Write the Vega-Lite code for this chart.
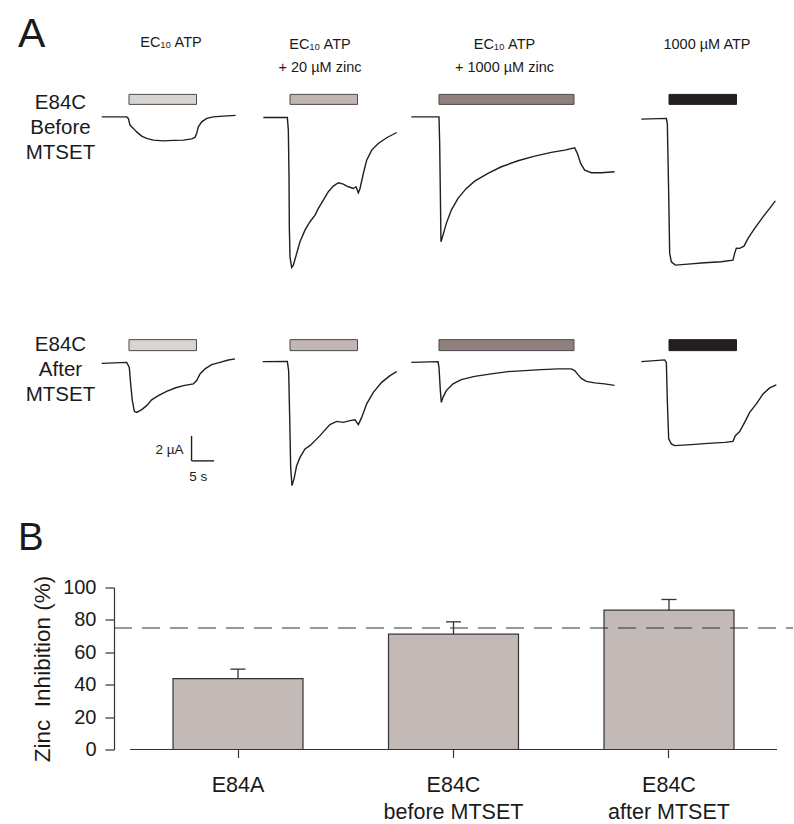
{
  "$schema": "https://vega.github.io/schema/vega-lite/v6.json",
  "padding": {"left": 18, "top": 14, "right": 0, "bottom": 0},
  "title": {"text": "A", "anchor": "start", "frame": "group", "fontSize": 41, "fontWeight": "normal", "color": "#1a1a1a", "dx": -83, "offset": -21},
  "config": {
    "font": "Liberation Sans",
    "view": {"stroke": null},
    "concat": {"spacing": 0},
    "title": {"fontWeight": "normal", "color": "#1a1a1a", "font": "Liberation Sans"},
    "axis": {"grid": false, "labelFont": "Liberation Sans", "titleFont": "Liberation Sans"}
  },
  "datasets": {
    "stim15": [{"start": 0, "end": 15}],
    "stim30": [{"start": 0, "end": 30}],
    "r1c1": [{"t":-6.07,"i":0.02},{"t":-0.51,"i":0.02},{"t":-0.15,"i":-0.1},{"t":0.22,"i":-0.64},{"t":0.96,"i":-0.9},{"t":1.71,"i":-1.18},{"t":2.82,"i":-1.52},{"t":3.93,"i":-1.7},{"t":5.4,"i":-1.84},{"t":7.62,"i":-1.9},{"t":9.84,"i":-1.86},{"t":12.07,"i":-1.84},{"t":13.93,"i":-1.74},{"t":14.67,"i":-1.62},{"t":15.04,"i":-1.3},{"t":15.4,"i":-0.78},{"t":16.16,"i":-0.38},{"t":17.27,"i":-0.1},{"t":18.73,"i":0.02},{"t":20.96,"i":0.08},{"t":23.7,"i":0.14}],
    "r1c2": [{"t":-5.93,"i":-0.03},{"t":-0.59,"i":-0.03},{"t":-0.37,"i":-1.04},{"t":-0.22,"i":-4.77},{"t":-0.15,"i":-8.77},{"t":0,"i":-11.18},{"t":0.37,"i":-12.03},{"t":0.74,"i":-11.84},{"t":1.48,"i":-10.91},{"t":2.22,"i":-9.97},{"t":3.33,"i":-9.04},{"t":4.44,"i":-8.37},{"t":5.56,"i":-7.84},{"t":6.3,"i":-7.3},{"t":7.41,"i":-6.64},{"t":8.52,"i":-5.97},{"t":9.63,"i":-5.52},{"t":10.74,"i":-5.25},{"t":11.85,"i":-5.36},{"t":12.96,"i":-5.57},{"t":14.07,"i":-5.71},{"t":14.67,"i":-5.57},{"t":15.19,"i":-6.05},{"t":15.56,"i":-5.71},{"t":16.3,"i":-4.51},{"t":17.04,"i":-3.44},{"t":18.15,"i":-2.64},{"t":19.63,"i":-2.11},{"t":21.48,"i":-1.65},{"t":23.7,"i":-1.23}],
    "r1c3": [{"t":-6.15,"i":0.02},{"t":0,"i":0.02},{"t":0.15,"i":-2.1},{"t":0.3,"i":-6.1},{"t":0.44,"i":-9.97},{"t":0.89,"i":-9.44},{"t":1.63,"i":-8.5},{"t":2.74,"i":-7.44},{"t":4.22,"i":-6.5},{"t":6.07,"i":-5.7},{"t":7.93,"i":-5.12},{"t":10.89,"i":-4.5},{"t":13.85,"i":-3.97},{"t":17.56,"i":-3.49},{"t":21.26,"i":-3.12},{"t":24.96,"i":-2.82},{"t":27.93,"i":-2.64},{"t":30.15,"i":-2.45},{"t":30.74,"i":-2.9},{"t":31.48,"i":-3.7},{"t":32.37,"i":-4.24},{"t":33.85,"i":-4.45},{"t":36.07,"i":-4.45},{"t":39.0,"i":-4.37}],
    "r1c4": [{"t":-6.15,"i":-0.16},{"t":-0.59,"i":-0.1},{"t":-0.37,"i":-0.5},{"t":-0.07,"i":-6.1},{"t":0.15,"i":-10.9},{"t":0.52,"i":-11.57},{"t":1.41,"i":-11.84},{"t":4.22,"i":-11.76},{"t":7.93,"i":-11.65},{"t":11.63,"i":-11.57},{"t":14.22,"i":-11.44},{"t":14.59,"i":-10.9},{"t":14.96,"i":-10.48},{"t":15.7,"i":-10.5},{"t":16.67,"i":-10.32},{"t":17.56,"i":-9.7},{"t":19.04,"i":-8.9},{"t":20.89,"i":-7.98},{"t":22.37,"i":-7.3},{"t":23.63,"i":-6.7}],
    "r2c1": [{"t":-6.07,"i":-0.1},{"t":-0.51,"i":-0.02},{"t":0.07,"i":-0.42},{"t":0.37,"i":-1.74},{"t":0.74,"i":-3.08},{"t":1.19,"i":-3.94},{"t":1.7,"i":-4.02},{"t":2.82,"i":-3.8},{"t":3.93,"i":-3.48},{"t":5.04,"i":-3.02},{"t":6.52,"i":-2.68},{"t":8.37,"i":-2.34},{"t":10.22,"i":-2.07},{"t":12.07,"i":-1.88},{"t":14.3,"i":-1.74},{"t":15.04,"i":-1.48},{"t":15.78,"i":-0.95},{"t":16.89,"i":-0.54},{"t":18.37,"i":-0.2},{"t":20.22,"i":-0.02},{"t":22.07,"i":0.17},{"t":23.56,"i":0.26}],
    "r2c2": [{"t":-6.07,"i":0.04},{"t":-0.59,"i":0.06},{"t":-0.3,"i":-0.68},{"t":-0.07,"i":-4.42},{"t":0.15,"i":-8.42},{"t":0.44,"i":-9.88},{"t":0.89,"i":-9.34},{"t":1.48,"i":-8.28},{"t":2.22,"i":-7.62},{"t":3.33,"i":-6.94},{"t":4.44,"i":-6.68},{"t":5.56,"i":-6.28},{"t":6.67,"i":-5.88},{"t":7.78,"i":-5.42},{"t":8.89,"i":-5.0},{"t":10.37,"i":-4.74},{"t":11.85,"i":-4.82},{"t":13.33,"i":-4.68},{"t":14.44,"i":-4.62},{"t":15.19,"i":-5.0},{"t":15.93,"i":-4.42},{"t":17.04,"i":-3.34},{"t":18.52,"i":-2.42},{"t":20.37,"i":-1.62},{"t":22.22,"i":-1.08},{"t":23.7,"i":-0.76}],
    "r2c3": [{"t":-6.15,"i":-0.02},{"t":-0.22,"i":0.04},{"t":0,"i":-0.42},{"t":0.3,"i":-2.28},{"t":0.52,"i":-3.22},{"t":0.89,"i":-2.82},{"t":1.63,"i":-2.28},{"t":3.11,"i":-1.74},{"t":4.96,"i":-1.4},{"t":7.93,"i":-1.14},{"t":11.63,"i":-0.94},{"t":15.33,"i":-0.76},{"t":19.04,"i":-0.68},{"t":22.74,"i":-0.6},{"t":26.44,"i":-0.54},{"t":29.41,"i":-0.54},{"t":30.15,"i":-0.68},{"t":30.89,"i":-1.0},{"t":31.63,"i":-1.3},{"t":32.74,"i":-1.54},{"t":34.59,"i":-1.66},{"t":36.81,"i":-1.74},{"t":39.0,"i":-1.86}],
    "r2c4": [{"t":-6.15,"i":0.04},{"t":-0.96,"i":0.18},{"t":-0.59,"i":-0.02},{"t":-0.37,"i":-3.08},{"t":-0.07,"i":-6.14},{"t":0.52,"i":-6.54},{"t":1.26,"i":-6.68},{"t":4.96,"i":-6.6},{"t":8.67,"i":-6.5},{"t":12.37,"i":-6.42},{"t":14.22,"i":-6.34},{"t":14.74,"i":-5.88},{"t":15.7,"i":-5.56},{"t":16.81,"i":-4.82},{"t":17.93,"i":-4.02},{"t":19.41,"i":-3.34},{"t":20.89,"i":-2.54},{"t":22.37,"i":-2.06},{"t":23.85,"i":-1.82}],
    "inhibition": [{"group":"E84A","mean":43.8,"upper":49.6},{"group":"E84C before MTSET","mean":71.2,"upper":78.8},{"group":"E84C after MTSET","mean":86.0,"upper":92.6}]
  },
  "spacing": 29.5,
  "vconcat": [
    {
      "spacing": 65,
      "vconcat": [
        {
          "spacing": 0,
          "hconcat": [
            {
              "width": 135, "height": 175,
              "title": {"text": ["EC₁₀ ATP", " "], "fontSize": 14.5, "lineHeight": 23.5, "offset": 18, "anchor": "middle", "frame": "group", "dx": 2.5},
              "layer": [
                {"data": {"name": "stim15"}, "mark": {"type": "rect", "fill": "#d8d4d2", "stroke": "#4a4a4a", "strokeWidth": 1},
                 "encoding": {"x": {"field": "start", "type": "quantitative", "scale": {"domain": [-6.222, 23.778], "nice": false, "zero": false}, "axis": null}, "x2": {"field": "end"},
                   "y": {"datum": 1.82, "type": "quantitative", "scale": {"domain": [-12.15, 1.85], "nice": false, "zero": false},
                     "axis": {"domain": false, "ticks": false, "labels": false, "grid": false, "title": ["E84C", "Before", "MTSET"], "titleAngle": 0, "titleAlign": "center", "titleBaseline": "alphabetic", "titleX": -41, "titleY": 14.4, "titleFontSize": 20.5, "titleFontWeight": "normal", "titleLineHeight": 25, "titleColor": "#1a1a1a"}},
                   "y2": {"datum": 1.02}}},
                {"data": {"name": "r1c1"}, "mark": {"type": "line", "stroke": "#1f1f1f", "strokeWidth": 1.4, "clip": true},
                 "encoding": {"x": {"field": "t", "type": "quantitative", "axis": null},
                   "y": {"field": "i", "type": "quantitative",
                     "axis": {"domain": false, "ticks": false, "labels": false, "grid": false, "title": ["E84C", "Before", "MTSET"], "titleAngle": 0, "titleAlign": "center", "titleBaseline": "alphabetic", "titleX": -41, "titleY": 14.4, "titleFontSize": 20.5, "titleFontWeight": "normal", "titleLineHeight": 25, "titleColor": "#1a1a1a"}}}}
              ]
            },
            {
              "width": 162, "height": 175,
              "title": {"text": ["EC₁₀ ATP", "+ 20 µM zinc"], "fontSize": 14.5, "lineHeight": 23.5, "offset": 18, "anchor": "middle", "frame": "group", "dx": 3},
              "layer": [
                {"data": {"name": "stim15"}, "mark": {"type": "rect", "fill": "#c2b6b5", "stroke": "#4a4a4a", "strokeWidth": 1},
                 "encoding": {"x": {"field": "start", "type": "quantitative", "scale": {"domain": [-12, 24], "nice": false, "zero": false}, "axis": null}, "x2": {"field": "end"},
                   "y": {"datum": 1.82, "type": "quantitative", "scale": {"domain": [-12.15, 1.85], "nice": false, "zero": false}, "axis": null}, "y2": {"datum": 1.02}}},
                {"data": {"name": "r1c2"}, "mark": {"type": "line", "stroke": "#1f1f1f", "strokeWidth": 1.4, "clip": true},
                 "encoding": {"x": {"field": "t", "type": "quantitative", "axis": null}, "y": {"field": "i", "type": "quantitative", "axis": null}}}
              ]
            },
            {
              "width": 217, "height": 175,
              "title": {"text": ["EC₁₀ ATP", "+ 1000 µM zinc"], "fontSize": 14.5, "lineHeight": 23.5, "offset": 18, "anchor": "middle", "frame": "group", "dx": -2},
              "layer": [
                {"data": {"name": "stim30"}, "mark": {"type": "rect", "fill": "#8f7f7d", "stroke": "#4a4a4a", "strokeWidth": 1},
                 "encoding": {"x": {"field": "start", "type": "quantitative", "scale": {"domain": [-9.111, 39.111], "nice": false, "zero": false}, "axis": null}, "x2": {"field": "end"},
                   "y": {"datum": 1.82, "type": "quantitative", "scale": {"domain": [-12.15, 1.85], "nice": false, "zero": false}, "axis": null}, "y2": {"datum": 1.02}}},
                {"data": {"name": "r1c3"}, "mark": {"type": "line", "stroke": "#1f1f1f", "strokeWidth": 1.4, "clip": true},
                 "encoding": {"x": {"field": "t", "type": "quantitative", "axis": null}, "y": {"field": "i", "type": "quantitative", "axis": null}}}
              ]
            },
            {
              "width": 162, "height": 175,
              "title": {"text": ["1000 µM ATP", " "], "fontSize": 14.5, "lineHeight": 23.5, "offset": 18, "anchor": "middle", "frame": "group", "dx": 11},
              "layer": [
                {"data": {"name": "stim15"}, "mark": {"type": "rect", "fill": "#231f20", "stroke": "#231f20", "strokeWidth": 1},
                 "encoding": {"x": {"field": "start", "type": "quantitative", "scale": {"domain": [-12, 24], "nice": false, "zero": false}, "axis": null}, "x2": {"field": "end"},
                   "y": {"datum": 1.82, "type": "quantitative", "scale": {"domain": [-12.15, 1.85], "nice": false, "zero": false}, "axis": null}, "y2": {"datum": 1.02}}},
                {"data": {"name": "r1c4"}, "mark": {"type": "line", "stroke": "#1f1f1f", "strokeWidth": 1.4, "clip": true},
                 "encoding": {"x": {"field": "t", "type": "quantitative", "axis": null}, "y": {"field": "i", "type": "quantitative", "axis": null}}}
              ]
            }
          ]
        },
        {
          "spacing": 0,
          "hconcat": [
            {
              "width": 135, "height": 150,
              "layer": [
                {"data": {"name": "stim15"}, "mark": {"type": "rect", "fill": "#d8d4d2", "stroke": "#4a4a4a", "strokeWidth": 1},
                 "encoding": {"x": {"field": "start", "type": "quantitative", "scale": {"domain": [-6.222, 23.778], "nice": false, "zero": false}, "axis": null}, "x2": {"field": "end"},
                   "y": {"datum": 1.8, "type": "quantitative", "scale": {"domain": [-10.15, 1.85], "nice": false, "zero": false},
                     "axis": {"domain": false, "ticks": false, "labels": false, "grid": false, "title": ["E84C", "After", "MTSET"], "titleAngle": 0, "titleAlign": "center", "titleBaseline": "alphabetic", "titleX": -41, "titleY": 11.6, "titleFontSize": 20.5, "titleFontWeight": "normal", "titleLineHeight": 25, "titleColor": "#1a1a1a"}},
                   "y2": {"datum": 0.92}}},
                {"data": {"name": "r2c1"}, "mark": {"type": "line", "stroke": "#1f1f1f", "strokeWidth": 1.4, "clip": true},
                 "encoding": {"x": {"field": "t", "type": "quantitative", "axis": null},
                   "y": {"field": "i", "type": "quantitative",
                     "axis": {"domain": false, "ticks": false, "labels": false, "grid": false, "title": ["E84C", "After", "MTSET"], "titleAngle": 0, "titleAlign": "center", "titleBaseline": "alphabetic", "titleX": -41, "titleY": 11.6, "titleFontSize": 20.5, "titleFontWeight": "normal", "titleLineHeight": 25, "titleColor": "#1a1a1a"}}}},
                {"data": {"values": [{}]}, "mark": {"type": "rule", "stroke": "#1f1f1f", "strokeWidth": 1.4},
                 "encoding": {"x": {"datum": 13.9, "type": "quantitative"}, "y": {"datum": -5.9, "type": "quantitative"}, "y2": {"datum": -7.9}}},
                {"data": {"values": [{}]}, "mark": {"type": "rule", "stroke": "#1f1f1f", "strokeWidth": 1.4},
                 "encoding": {"x": {"datum": 13.9, "type": "quantitative"}, "x2": {"datum": 18.9}, "y": {"datum": -7.9, "type": "quantitative"}}},
                {"data": {"values": [{}]}, "mark": {"type": "text", "align": "right", "baseline": "middle", "dx": -8, "fontSize": 13.5, "color": "#1a1a1a"},
                 "encoding": {"x": {"datum": 13.9, "type": "quantitative"}, "y": {"datum": -7.0, "type": "quantitative"}, "text": {"value": "2 µA"}}},
                {"data": {"values": [{}]}, "mark": {"type": "text", "align": "center", "baseline": "middle", "fontSize": 13.5, "color": "#1a1a1a"},
                 "encoding": {"x": {"datum": 15.4, "type": "quantitative"}, "y": {"datum": -9.15, "type": "quantitative"}, "text": {"value": "5 s"}}}
              ]
            },
            {
              "width": 162, "height": 150,
              "layer": [
                {"data": {"name": "stim15"}, "mark": {"type": "rect", "fill": "#c2b6b5", "stroke": "#4a4a4a", "strokeWidth": 1},
                 "encoding": {"x": {"field": "start", "type": "quantitative", "scale": {"domain": [-12, 24], "nice": false, "zero": false}, "axis": null}, "x2": {"field": "end"},
                   "y": {"datum": 1.8, "type": "quantitative", "scale": {"domain": [-10.15, 1.85], "nice": false, "zero": false}, "axis": null}, "y2": {"datum": 0.92}}},
                {"data": {"name": "r2c2"}, "mark": {"type": "line", "stroke": "#1f1f1f", "strokeWidth": 1.4, "clip": true},
                 "encoding": {"x": {"field": "t", "type": "quantitative", "axis": null}, "y": {"field": "i", "type": "quantitative", "axis": null}}}
              ]
            },
            {
              "width": 217, "height": 150,
              "layer": [
                {"data": {"name": "stim30"}, "mark": {"type": "rect", "fill": "#8f7f7d", "stroke": "#4a4a4a", "strokeWidth": 1},
                 "encoding": {"x": {"field": "start", "type": "quantitative", "scale": {"domain": [-9.111, 39.111], "nice": false, "zero": false}, "axis": null}, "x2": {"field": "end"},
                   "y": {"datum": 1.8, "type": "quantitative", "scale": {"domain": [-10.15, 1.85], "nice": false, "zero": false}, "axis": null}, "y2": {"datum": 0.92}}},
                {"data": {"name": "r2c3"}, "mark": {"type": "line", "stroke": "#1f1f1f", "strokeWidth": 1.4, "clip": true},
                 "encoding": {"x": {"field": "t", "type": "quantitative", "axis": null}, "y": {"field": "i", "type": "quantitative", "axis": null}}}
              ]
            },
            {
              "width": 162, "height": 150,
              "layer": [
                {"data": {"name": "stim15"}, "mark": {"type": "rect", "fill": "#231f20", "stroke": "#231f20", "strokeWidth": 1},
                 "encoding": {"x": {"field": "start", "type": "quantitative", "scale": {"domain": [-12, 24], "nice": false, "zero": false}, "axis": null}, "x2": {"field": "end"},
                   "y": {"datum": 1.8, "type": "quantitative", "scale": {"domain": [-10.15, 1.85], "nice": false, "zero": false}, "axis": null}, "y2": {"datum": 0.92}}},
                {"data": {"name": "r2c4"}, "mark": {"type": "line", "stroke": "#1f1f1f", "strokeWidth": 1.4, "clip": true},
                 "encoding": {"x": {"field": "t", "type": "quantitative", "axis": null}, "y": {"field": "i", "type": "quantitative", "axis": null}}}
              ]
            }
          ]
        }
      ]
    },
    {
      "width": 692, "height": 162,
      "title": {"text": "B", "anchor": "start", "frame": "group", "fontSize": 38.5, "fontWeight": "normal", "color": "#1a1a1a", "dx": -83, "offset": 16.5},
      "resolve": {"scale": {"x": "independent"}},
      "layer": [
        {
          "data": {"name": "inhibition"},
          "layer": [
            {"mark": {"type": "bar", "fill": "#c3b9b6", "stroke": "#333333", "strokeWidth": 1.2},
             "encoding": {
               "x": {"field": "group", "type": "nominal", "sort": null, "scale": {"paddingInner": 0.3968, "paddingOuter": 0.304, "align": 0.5496},
                 "axis": {"title": null, "domain": false, "tickSize": 8, "tickColor": "#333333", "tickWidth": 1.2, "labelAngle": 0, "labelFontSize": 21.5, "labelColor": "#1a1a1a", "labelPadding": 17, "labelLineHeight": 26.5, "labelOverlap": false,
                   "labelExpr": "datum.value == 'E84A' ? 'E84A' : ['E84C', slice(datum.value, 5)]"}},
               "y": {"field": "mean", "type": "quantitative", "scale": {"domain": [0, 100], "nice": false, "zero": false},
                 "axis": {"values": [0, 20, 40, 60, 80, 100], "tickCount": 10, "labelOverlap": false, "labelBound": false, "offset": -13, "tickSize": 9, "tickColor": "#333333", "tickWidth": 1.2, "domainColor": "#333333", "domainWidth": 1.2, "labelFontSize": 20, "labelColor": "#1a1a1a", "labelPadding": 9, "title": "Zinc\u00a0 Inhibition (%)", "titleFontSize": 22.5, "titleFontWeight": "normal", "titleColor": "#1a1a1a", "titlePadding": 8}}
             }},
            {"mark": {"type": "rule", "stroke": "#333333", "strokeWidth": 1.3},
             "encoding": {"x": {"field": "group", "type": "nominal", "sort": null}, "y": {"field": "mean", "type": "quantitative"}, "y2": {"field": "upper"}}},
            {"mark": {"type": "tick", "color": "#333333", "size": 15, "thickness": 1.3, "opacity": 1},
             "encoding": {"x": {"field": "group", "type": "nominal", "sort": null}, "y": {"field": "upper", "type": "quantitative"}}}
          ]
        },
        {
          "data": {"values": [{}]},
          "layer": [
            {"mark": {"type": "rule", "stroke": "#333333", "strokeWidth": 1.2},
             "encoding": {"x": {"datum": 0.0419, "type": "quantitative", "scale": {"domain": [0, 1], "nice": false, "zero": false}, "axis": null}, "x2": {"datum": 0.9769}, "y": {"datum": 0, "type": "quantitative"}}},
            {"mark": {"type": "rule", "stroke": "#333333", "strokeWidth": 1.2, "strokeDash": [18, 10]},
             "encoding": {"x": {"datum": 0.0188, "type": "quantitative", "axis": null}, "x2": {"datum": 1.0}, "y": {"datum": 75, "type": "quantitative"}}}
          ]
        }
      ]
    }
  ]
}
